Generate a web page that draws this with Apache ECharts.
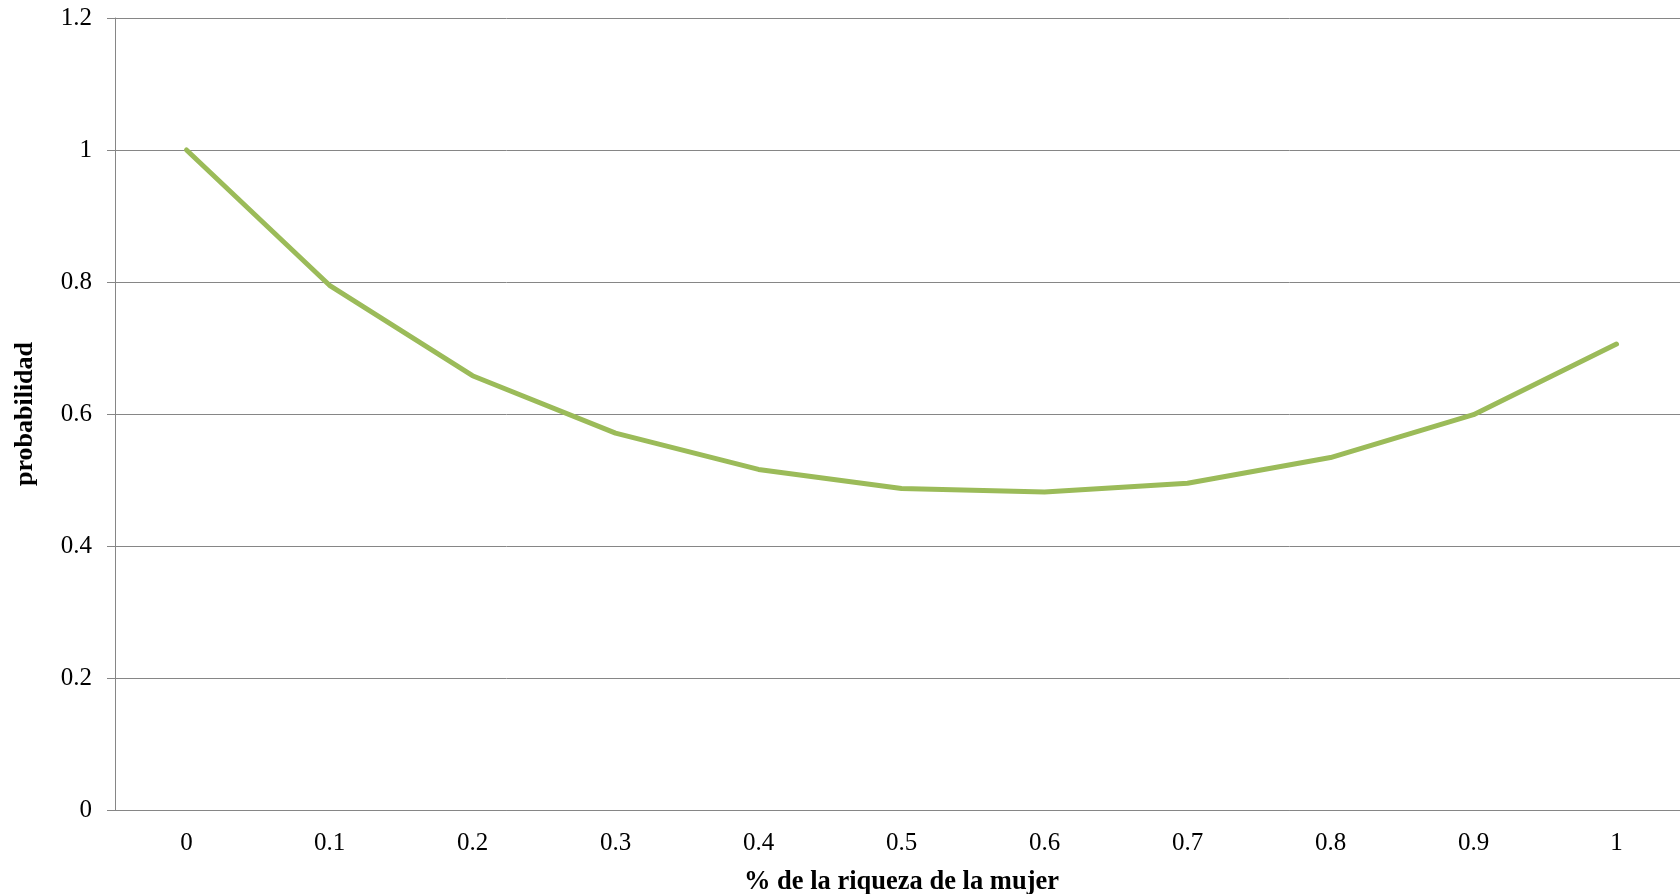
<!DOCTYPE html>
<html>
<head>
<meta charset="utf-8">
<script src="https://cdn.jsdelivr.net/npm/echarts@6/dist/echarts.min.js"></script>
<style>
html,body{margin:0;padding:0;background:#fff;overflow:hidden;}
#chart{width:1680px;height:894px;}
</style>
</head>
<body>
<div id="chart"></div>
<script>
const categories = ['0','0.1','0.2','0.3','0.4','0.5','0.6','0.7','0.8','0.9','1'];
const probabilidad = [1.0, 0.795, 0.658, 0.571, 0.516, 0.487, 0.482, 0.495, 0.534, 0.599, 0.706];
const yTickValues = [0, 0.2, 0.4, 0.6, 0.8, 1, 1.2];
const yTickLabels = ['0', '0.2', '0.4', '0.6', '0.8', '1', '1.2'];
const xTitle = '% de la riqueza de la mujer';
const yTitle = 'probabilidad';

const font = 'Liberation Serif';
const chart = echarts.init(document.getElementById('chart'));
chart.setOption({
  animation: false,
  backgroundColor: '#ffffff',
  grid: { left: 115, top: 18, right: -8, bottom: 84, containLabel: false, outerBoundsMode: 'none' },
  xAxis: {
    type: 'category',
    data: categories,
    boundaryGap: true,
    axisLine: { show: true, lineStyle: { color: '#868686', width: 1 } },
    axisTick: { show: false },
    axisLabel: { color: '#000', fontFamily: font, fontSize: 25, margin: 21 },
    splitLine: { show: false },
    name: xTitle,
    nameLocation: 'middle',
    nameGap: 59,
    nameTextStyle: { color: '#000', fontFamily: font, fontSize: 26.5, fontWeight: 'bold' }
  },
  yAxis: {
    type: 'value',
    min: 0,
    max: 1.2,
    interval: 0.2,
    axisLine: { show: true, lineStyle: { color: '#868686', width: 1 } },
    axisTick: { show: true, length: 8, lineStyle: { color: '#868686' } },
    axisLabel: {
      color: '#000', fontFamily: font, fontSize: 25, margin: 23,
      formatter: function (v) {
        for (let i = 0; i < yTickValues.length; i++) {
          if (Math.abs(v - yTickValues[i]) < 1e-6) return yTickLabels[i];
        }
        return '';
      }
    },
    splitLine: { show: true, lineStyle: { color: '#868686', width: 1 } },
    name: yTitle,
    nameLocation: 'middle',
    nameGap: 77,
    nameRotate: 90,
    nameTextStyle: { color: '#000', fontFamily: font, fontSize: 26, fontWeight: 'bold' }
  },
  series: [{
    type: 'line',
    data: probabilidad,
    symbol: 'none',
    smooth: false,
    lineStyle: { color: '#9BBB59', width: 5, cap: 'round', join: 'round' },
    itemStyle: { color: '#9BBB59' }
  }]
});
</script>
</body>
</html>
